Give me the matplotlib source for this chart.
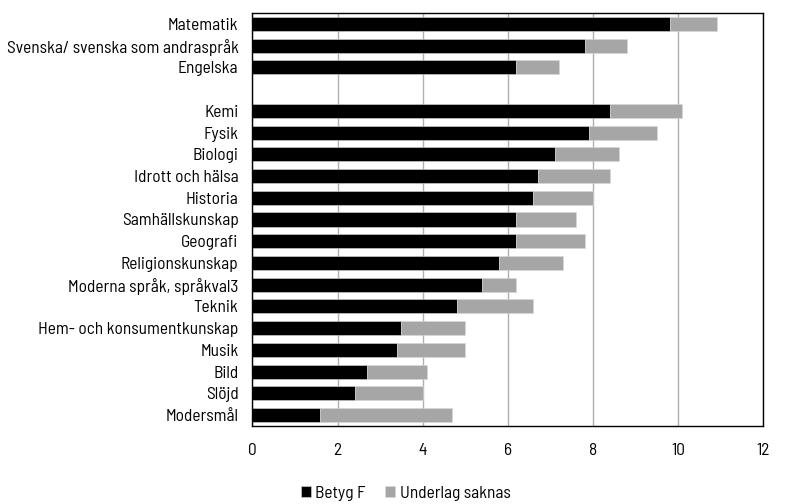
import numpy as np
import matplotlib
matplotlib.use("Agg")
import matplotlib.pyplot as plt

plt.rcParams['font.family'] = ['Barlow Semi Condensed', 'DejaVu Sans']
plt.rcParams['font.size'] = 12.5

# subjects top to bottom; empty string is the spacer row
subjects = ["Matematik", "Svenska/ svenska som andraspråk", "Engelska", "",
            "Kemi", "Fysik", "Biologi", "Idrott och hälsa", "Historia",
            "Samhällskunskap", "Geografi", "Religionskunskap",
            "Moderna språk, språkval3", "Teknik", "Hem- och konsumentkunskap",
            "Musik", "Bild", "Slöjd", "Modersmål"]
betyg_f = [9.8, 7.8, 6.2, 0,
           8.4, 7.9, 7.1, 6.7, 6.6, 6.2, 6.2, 5.8, 5.4, 4.8, 3.5, 3.4, 2.7, 2.4, 1.6]
underlag = [1.1, 1.0, 1.0, 0,
            1.7, 1.6, 1.5, 1.7, 1.4, 1.4, 1.6, 1.5, 0.8, 1.8, 1.5, 1.6, 1.4, 1.6, 3.1]

y = np.arange(len(subjects))

fig, ax = plt.subplots(figsize=(7.96, 5.04), dpi=100)
fig.subplots_adjust(left=0.317, right=0.959, top=0.974, bottom=0.155)

ax.barh(y, betyg_f, height=0.65, color="black", edgecolor="#d8d8d8",
        linewidth=0.4, label="Betyg F", zorder=3)
ax.barh(y, underlag, left=betyg_f, height=0.65, color="#a6a6a6",
        edgecolor="#d8d8d8", linewidth=0.4, label="Underlag saknas", zorder=3)

ax.set_yticks(y)
ax.set_yticklabels(subjects)
ax.set_ylim(len(subjects) - 0.5, -0.5)
ax.set_xlim(0, 12)
ax.set_xticks(range(0, 13, 2))
ax.tick_params(length=0)
ax.tick_params(axis='x', pad=12)
ax.tick_params(axis='y', pad=10)

ax.grid(axis='x', color="#b0b0b0", linewidth=1.0, zorder=0)
for s in ax.spines.values():
    s.set_color("black")
    s.set_linewidth(1.0)
    s.set_zorder(4)

leg = ax.legend(loc='upper center', bbox_to_anchor=(0.30, -0.107), ncol=2,
                frameon=False, handlelength=0.6, handleheight=0.6,
                handletextpad=0.25, columnspacing=1.1)

fig.savefig("out.png", dpi=100)
